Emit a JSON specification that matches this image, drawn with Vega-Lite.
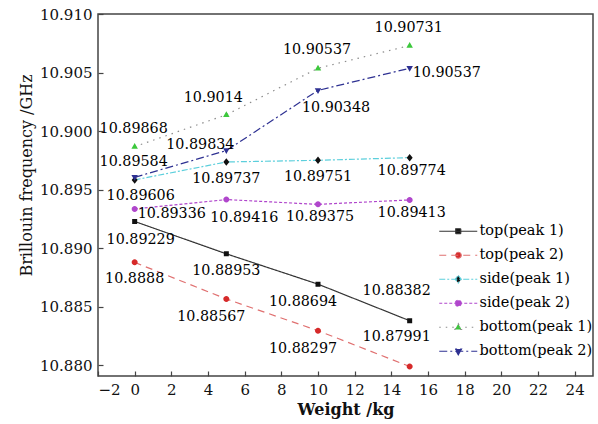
{
  "$schema": "https://vega.github.io/schema/vega-lite/v6.json",
  "width": 495,
  "height": 362,
  "autosize": "none",
  "padding": {"left": 98, "top": 14, "right": 5, "bottom": 48},
  "background": "white",
  "data": {
    "values": [
      {"series": "top(peak 1)", "w": 0, "v": 10.89229},
      {"series": "top(peak 1)", "w": 5, "v": 10.88953},
      {"series": "top(peak 1)", "w": 10, "v": 10.88694},
      {"series": "top(peak 1)", "w": 15, "v": 10.88382},
      {"series": "top(peak 2)", "w": 0, "v": 10.8888},
      {"series": "top(peak 2)", "w": 5, "v": 10.88567},
      {"series": "top(peak 2)", "w": 10, "v": 10.88297},
      {"series": "top(peak 2)", "w": 15, "v": 10.87991},
      {"series": "side(peak 1)", "w": 0, "v": 10.89584},
      {"series": "side(peak 1)", "w": 5, "v": 10.89737},
      {"series": "side(peak 1)", "w": 10, "v": 10.89751},
      {"series": "side(peak 1)", "w": 15, "v": 10.89774},
      {"series": "side(peak 2)", "w": 0, "v": 10.89336},
      {"series": "side(peak 2)", "w": 5, "v": 10.89416},
      {"series": "side(peak 2)", "w": 10, "v": 10.89375},
      {"series": "side(peak 2)", "w": 15, "v": 10.89413},
      {"series": "bottom(peak 1)", "w": 0, "v": 10.89868},
      {"series": "bottom(peak 1)", "w": 5, "v": 10.9014},
      {"series": "bottom(peak 1)", "w": 10, "v": 10.90537},
      {"series": "bottom(peak 1)", "w": 15, "v": 10.90731},
      {"series": "bottom(peak 2)", "w": 0, "v": 10.89606},
      {"series": "bottom(peak 2)", "w": 5, "v": 10.89834},
      {"series": "bottom(peak 2)", "w": 10, "v": 10.90348},
      {"series": "bottom(peak 2)", "w": 15, "v": 10.90537}
    ]
  },
  "encoding": {
    "x": {
      "field": "w",
      "type": "quantitative",
      "title": "Weight /kg",
      "scale": {"domain": [-2, 25], "nice": false, "zero": false},
      "axis": {
        "values": [-2, 0, 2, 4, 6, 8, 10, 12, 14, 16, 18, 20, 22, 24],
        "labelPadding": 11,
        "titlePadding": 4,
        "titleFontWeight": "bold"
      }
    },
    "y": {
      "field": "v",
      "type": "quantitative",
      "title": "Brillouin frequency /GHz",
      "scale": {"domain": [10.8791, 10.91], "nice": false, "zero": false},
      "axis": {
        "values": [10.88, 10.885, 10.89, 10.895, 10.9, 10.905, 10.91],
        "format": ".3f",
        "labelPadding": 11,
        "titleX": -72,
        "titleY": 161,
        "titleAlign": "center",
        "titleBaseline": "middle"
      }
    }
  },
  "layer": [
    {
      "mark": {"type": "line", "strokeWidth": 1.2},
      "encoding": {
        "color": {
          "field": "series",
          "type": "nominal",
          "scale": {
            "domain": ["top(peak 1)", "top(peak 2)", "side(peak 1)", "side(peak 2)", "bottom(peak 1)", "bottom(peak 2)"],
            "range": ["#333333", "#e07070", "#5ccfdc", "#b046cc", "#8c8c8c", "#2e3192"]
          },
          "legend": {
            "orient": "none",
            "legendX": 353,
            "legendY": 210,
            "title": null,
            "padding": 0,
            "symbolSize": 100,
            "symbolStrokeWidth": 1.2,
            "labelOffset": 14,
            "rowPadding": 9,
            "labelFont": "DejaVu Serif",
            "labelFontSize": 14.5,
            "labelColor": "#000000"
          }
        },
        "strokeDash": {
          "field": "series",
          "type": "nominal",
          "scale": {
            "domain": ["top(peak 1)", "top(peak 2)", "side(peak 1)", "side(peak 2)", "bottom(peak 1)", "bottom(peak 2)"],
            "range": [[1, 0], [7, 5], [6, 2, 2, 2], [3, 2], [1.5, 5], [8, 3, 2, 3]]
          },
          "legend": null
        }
      }
    },
    {
      "mark": {"type": "point", "filled": true, "size": 100, "opacity": 1, "strokeWidth": 0},
      "encoding": {
        "shape": {
          "field": "series",
          "type": "nominal",
          "scale": {
            "domain": ["top(peak 1)", "top(peak 2)", "side(peak 1)", "side(peak 2)", "bottom(peak 1)", "bottom(peak 2)"],
            "range": [
              "M-3.8,0H3.8M-0.5,-0.5H0.5V0.5H-0.5Z",
              "M-3.8,0H3.8M0.6,0A0.6,0.6,0,1,1,-0.6,0A0.6,0.6,0,1,1,0.6,0Z",
              "M-3.8,0H3.8M0,-0.75L0.6,0L0,0.75L-0.6,0Z",
              "M-3.8,0H3.8M0.6,0A0.6,0.6,0,1,1,-0.6,0A0.6,0.6,0,1,1,0.6,0Z",
              "M-3.8,0H3.8M0,-0.7L0.65,0.45L-0.65,0.45Z",
              "M-3.8,0H3.8M0,0.7L0.65,-0.45L-0.65,-0.45Z"
            ]
          },
          "legend": null
        },
        "fill": {
          "field": "series",
          "type": "nominal",
          "scale": {
            "domain": ["top(peak 1)", "top(peak 2)", "side(peak 1)", "side(peak 2)", "bottom(peak 1)", "bottom(peak 2)"],
            "range": ["#111111", "#d62a2a", "#111111", "#b046cc", "#3cc83c", "#2e3192"]
          },
          "legend": null
        }
      }
    },
    {
      "transform": [{"filter": "indexof(['bottom(peak 1)@0', 'bottom(peak 1)@10', 'bottom(peak 1)@15', 'side(peak 1)@0'], datum.series + '@' + datum.w) >= 0"}],
      "mark": {"type": "text", "dx": -1, "dy": -18},
      "encoding": {"text": {"field": "v", "type": "quantitative"}}
    },
    {
      "transform": [{"filter": "indexof(['bottom(peak 1)@5'], datum.series + '@' + datum.w) >= 0"}],
      "mark": {"type": "text", "dx": -13, "dy": -17},
      "encoding": {"text": {"field": "v", "type": "quantitative"}}
    },
    {
      "transform": [{"filter": "indexof(['side(peak 1)@5', 'side(peak 1)@10', 'top(peak 1)@5', 'top(peak 2)@0'], datum.series + '@' + datum.w) >= 0"}],
      "mark": {"type": "text", "dx": 0, "dy": 17},
      "encoding": {"text": {"field": "v", "type": "quantitative"}}
    },
    {
      "transform": [{"filter": "indexof(['bottom(peak 2)@0', 'top(peak 1)@0'], datum.series + '@' + datum.w) >= 0"}],
      "mark": {"type": "text", "dx": 6, "dy": 19},
      "encoding": {"text": {"field": "v", "type": "quantitative"}}
    },
    {
      "transform": [{"filter": "indexof(['side(peak 1)@15', 'side(peak 2)@15', 'side(peak 2)@10'], datum.series + '@' + datum.w) >= 0"}],
      "mark": {"type": "text", "dx": 2, "dy": 13},
      "encoding": {"text": {"field": "v", "type": "quantitative"}}
    },
    {
      "transform": [{"filter": "indexof(['top(peak 1)@10', 'top(peak 2)@5', 'top(peak 2)@10'], datum.series + '@' + datum.w) >= 0"}],
      "mark": {"type": "text", "dx": -15, "dy": 18},
      "encoding": {"text": {"field": "v", "type": "quantitative"}}
    },
    {
      "transform": [{"filter": "indexof(['top(peak 1)@15', 'top(peak 2)@15'], datum.series + '@' + datum.w) >= 0"}],
      "mark": {"type": "text", "dx": -13, "dy": -30},
      "encoding": {"text": {"field": "v", "type": "quantitative"}}
    },
    {
      "transform": [{"filter": "indexof(['bottom(peak 2)@15', 'side(peak 2)@0'], datum.series + '@' + datum.w) >= 0"}],
      "mark": {"type": "text", "align": "left", "dx": 3, "dy": 5},
      "encoding": {"text": {"field": "v", "type": "quantitative"}}
    },
    {
      "transform": [{"filter": "indexof(['bottom(peak 2)@10', 'side(peak 2)@5'], datum.series + '@' + datum.w) >= 0"}],
      "mark": {"type": "text", "dx": 18, "dy": 18},
      "encoding": {"text": {"field": "v", "type": "quantitative"}}
    },
    {
      "transform": [{"filter": "indexof(['bottom(peak 2)@5'], datum.series + '@' + datum.w) >= 0"}],
      "mark": {"type": "text", "dx": -26, "dy": -6},
      "encoding": {"text": {"field": "v", "type": "quantitative"}}
    }
  ],
  "config": {
    "view": {"stroke": "#444444", "strokeWidth": 1.5},
    "text": {"font": "DejaVu Serif", "fontSize": 14.3, "color": "#000000", "baseline": "middle", "align": "center"},
    "axis": {
      "labelFont": "DejaVu Serif",
      "labelFontSize": 15,
      "labelColor": "#111111",
      "titleFont": "DejaVu Serif",
      "titleFontSize": 16,
      "titleFontWeight": "normal",
      "titleColor": "#111111",
      "tickColor": "#444444",
      "tickWidth": 1.2,
      "tickSize": -5,
      "domain": false,
      "grid": false
    }
  }
}
